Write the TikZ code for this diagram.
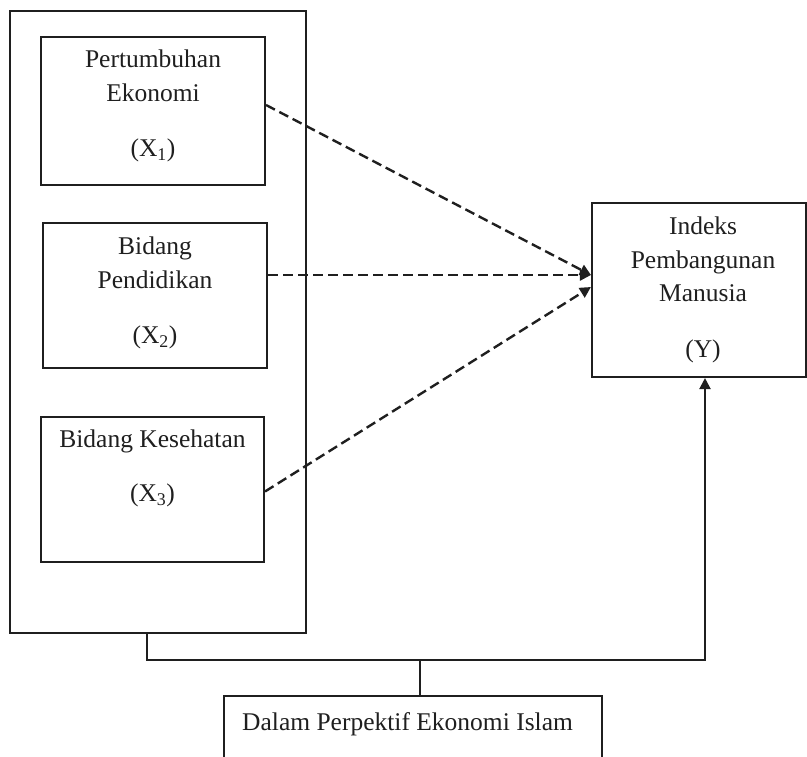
\documentclass[tikz,border=0pt]{standalone}
\usepackage{fontspec}
\setmainfont{Liberation Serif}
\usetikzlibrary{arrows.meta,calc}
\definecolor{ink}{gray}{0.12}
\begin{document}
\begin{tikzpicture}[x=1pt,y=-1pt,
  box/.style={draw=ink, line width=2.1pt, rectangle, inner sep=0pt},
  txt/.style={text=ink, font=\fontsize{25.5}{33.5}\selectfont, align=center, inner sep=0pt, anchor=north},
  dasharrow/.style={draw=ink, line width=2.4pt, dash pattern=on 10pt off 5pt, -{Triangle[length=11pt,width=11pt]}},
  conn/.style={draw=ink, line width=2.1pt}]
\clip (0,0) rectangle (807,757);
% boxes
\node[box, minimum width=296pt, minimum height=622pt] (outer) at (158,322) {};
\node[box, minimum width=224pt, minimum height=148pt] (x1) at (153,111) {};
\node[box, minimum width=224pt, minimum height=145pt] (x2) at (155,295.5) {};
\node[box, minimum width=223pt, minimum height=145pt] (x3) at (152.5,489.5) {};
\node[box, minimum width=214pt, minimum height=174pt] (y) at (699,290) {};
\node[box, minimum width=378pt, minimum height=104pt] (bot) at (413,748) {};
% texts
\node[txt] (t1) at (153,50) {Pertumbuhan\\Ekonomi\\[21.5pt](X\textsubscript{1})};
\node[txt] (t2) at (155,237) {Bidang\\Pendidikan\\[21.5pt](X\textsubscript{2})};
\node[txt] (t3) at (152.5,430) {Bidang Kesehatan\\[20.5pt](X\textsubscript{3})};
\node[txt] (ty) at (703,217) {Indeks\\Pembangunan\\Manusia\\[22pt](Y)};
\node[txt, anchor=north west] (tb) at (242,712) {Dalam Perpektif Ekonomi Islam};
% dashed arrows
\coordinate (ya) at ($(y.west)+(0,-15)$);
\coordinate (yb) at ($(y.west)+(0,-3)$);
\draw[dasharrow] ($(x1.east)+(0,-6)$) -- (ya);
\draw[dasharrow] (x2.east |- ya) -- (ya);
\draw[dasharrow] ($(x3.east)+(0,2)$) -- (yb);
% solid connectors
\coordinate (hl) at (0,660);
\coordinate (os) at ($(outer.south)+(-11,0)$);
\coordinate (ys) at ($(y.south)+(6,0)$);
\coordinate (bn) at ($(bot.north)+(7,0)$);
\draw[conn, -{Triangle[length=11pt,width=11pt]}] (os) -- (os |- hl) -- (ys |- hl) -- (ys);
\draw[conn] (bn) -- (bn |- hl);
\end{tikzpicture}
\end{document}
